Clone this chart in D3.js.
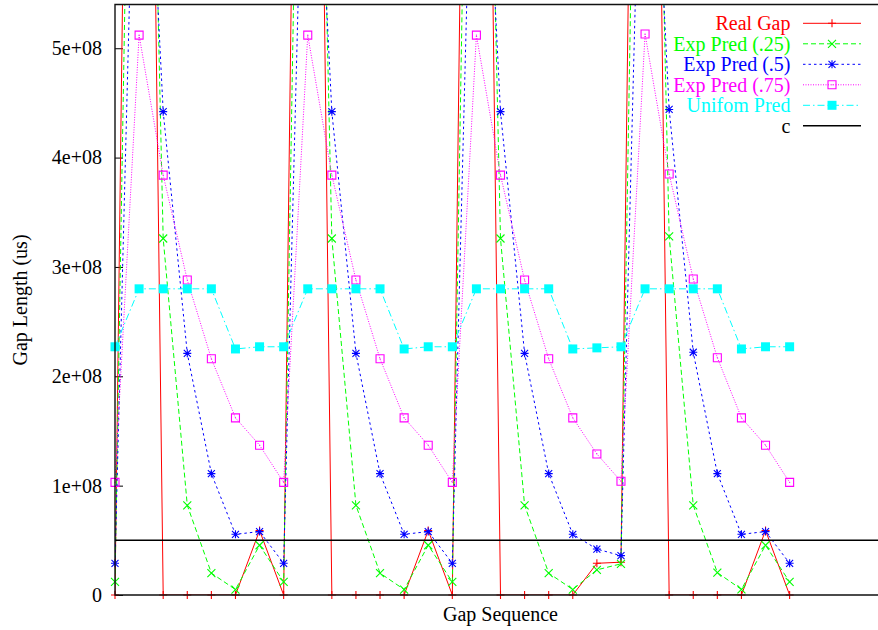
<!DOCTYPE html>
<html>
<head>
<meta charset="utf-8">
<script src="https://cdn.jsdelivr.net/npm/d3@7"></script>
<style>
  html, body { margin: 0; padding: 0; background: #fff; }
  svg { display: block; }
  text { font-family: "Liberation Serif", "Times New Roman", Times, serif; font-size: 20px; }
</style>
</head>
<body>
<svg id="chart" width="878" height="630"></svg>
<script>
// Gap sequence numbers (x) and the gap lengths in microseconds (y)
const gapSeq = [0, 1, 2, 3, 4, 5, 6, 7, 8, 9, 10, 11, 12, 13, 14, 15, 16, 17, 18, 19, 20, 21, 22, 23, 24, 25, 26, 27, 28];

const realGap = [0, 1.74e9, 0, 0, 0, 0, 5.9e7, 0,
                 1.74e9, 0, 0, 0, 0, 5.9e7, 0,
                 1.74e9, 0, 0, 0, 0, 2.9e7, 3.0e7,
                 1.74e9, 0, 0, 0, 0, 5.9e7, 0];

const expPred25 = [1.2e7, 1.305e9, 3.26e8, 8.2e7, 2.0e7, 5.0e6, 4.55e7, 1.2e7,
                   1.305e9, 3.26e8, 8.2e7, 2.0e7, 5.0e6, 4.55e7, 1.2e7,
                   1.305e9, 3.26e8, 8.2e7, 2.0e7, 5.0e6, 2.3e7, 2.85e7,
                   1.31e9, 3.28e8, 8.2e7, 2.05e7, 5.1e6, 4.55e7, 1.2e7];

const expPred5 = [2.9e7, 8.84e8, 4.42e8, 2.21e8, 1.11e8, 5.55e7, 5.8e7, 2.9e7,
                  8.84e8, 4.42e8, 2.21e8, 1.11e8, 5.55e7, 5.8e7, 2.9e7,
                  8.84e8, 4.42e8, 2.21e8, 1.11e8, 5.55e7, 4.2e7, 3.6e7,
                  8.88e8, 4.44e8, 2.22e8, 1.11e8, 5.55e7, 5.8e7, 2.9e7];

const expPred75 = [1.03e8, 5.12e8, 3.84e8, 2.88e8, 2.16e8, 1.62e8, 1.37e8, 1.03e8,
                   5.12e8, 3.84e8, 2.88e8, 2.16e8, 1.62e8, 1.37e8, 1.03e8,
                   5.12e8, 3.84e8, 2.88e8, 2.16e8, 1.62e8, 1.29e8, 1.04e8,
                   5.13e8, 3.85e8, 2.89e8, 2.17e8, 1.62e8, 1.37e8, 1.03e8];

const uniformPred = [2.27e8, 2.80e8, 2.80e8, 2.80e8, 2.80e8, 2.25e8, 2.27e8, 2.27e8,
                     2.80e8, 2.80e8, 2.80e8, 2.80e8, 2.25e8, 2.27e8, 2.27e8,
                     2.80e8, 2.80e8, 2.80e8, 2.80e8, 2.25e8, 2.26e8, 2.27e8,
                     2.80e8, 2.80e8, 2.80e8, 2.80e8, 2.25e8, 2.27e8, 2.27e8];

const thresholdC = 5e7;

const yTickValues = [0, 1e8, 2e8, 3e8, 4e8, 5e8];
const yTickLabels = ["0", "1e+08", "2e+08", "3e+08", "4e+08", "5e+08"];

const xDomain = [0, 32];
const yDomain = [0, 5.4e8];

// ---- layout ----
const svg = d3.select("#chart");
const plotLeft = 115, plotRight = 886, plotTop = 4.5, plotBottom = 595;

const x = d3.scaleLinear().domain(xDomain).range([plotLeft, plotRight]);
const y = d3.scaleLinear().domain(yDomain).range([plotBottom, plotTop]);

svg.append("defs").append("clipPath").attr("id", "plotClip")
  .append("rect").attr("x", plotLeft).attr("y", plotTop)
  .attr("width", plotRight - plotLeft).attr("height", plotBottom - plotTop);

// ---- axes ----
const yAxisL = d3.axisLeft(y).tickValues(yTickValues)
  .tickFormat((d, i) => yTickLabels[i]).tickSize(-8).tickPadding(13);
const gL = svg.append("g").attr("transform", `translate(${plotLeft},0)`).call(yAxisL);
gL.select(".domain").remove();
gL.selectAll("line").attr("stroke", "#000");
gL.selectAll("text").attr("fill", "#000")
  .style("font-family", '"Liberation Serif", "Times New Roman", serif').style("font-size", "20px");

const yAxisR = d3.axisRight(y).tickValues(yTickValues).tickFormat("").tickSize(-8);
const gR = svg.append("g").attr("transform", `translate(${plotRight},0)`).call(yAxisR);
gR.select(".domain").remove();
gR.selectAll("line").attr("stroke", "#000");

// axis titles
svg.append("text").attr("x", (plotLeft + plotRight) / 2).attr("y", 621)
  .attr("text-anchor", "middle").attr("fill", "#000").text("Gap Sequence");
svg.append("text").attr("transform", "translate(26.5,300) rotate(-90)")
  .attr("text-anchor", "middle").attr("fill", "#000").text("Gap Length (us)");

// ---- markers ----
const markerPaths = {
  plus: "M-4,0H4M0,-4V4",
  cross: "M-4,-4L4,4M-4,4L4,-4",
  star: "M-4,0H4M0,-4V4M-3.5,-3.5L3.5,3.5M-3.5,3.5L3.5,-3.5",
  box: "M-4,-4H4V4H-4Z",
  fbox: "M-4.5,-4.5H4.5V4.5H-4.5Z"
};

function drawMarker(g, type, color, cx, cy) {
  if (type === "fbox") {
    g.append("path").attr("d", markerPaths.fbox).attr("transform", `translate(${cx},${cy})`)
      .attr("fill", color).attr("stroke", "none");
  } else {
    g.append("path").attr("d", markerPaths[type]).attr("transform", `translate(${cx},${cy})`)
      .attr("fill", "none").attr("stroke", color).attr("stroke-width", 1.1);
    if (type === "box") {
      g.append("rect").attr("x", cx - 0.5).attr("y", cy - 0.5).attr("width", 1).attr("height", 1)
        .attr("fill", color);
    }
  }
}

const series = [
  { name: "Real Gap", values: realGap, color: "#ff0000", dash: null, marker: "plus" },
  { name: "Exp Pred (.25)", values: expPred25, color: "#00ff00", dash: "5,3", marker: "cross" },
  { name: "Exp Pred (.5)", values: expPred5, color: "#0000ff", dash: "2.5,3", marker: "star" },
  { name: "Exp Pred (.75)", values: expPred75, color: "#ff00ff", dash: "1,1.5", marker: "box" },
  { name: "Unifom Pred", values: uniformPred, color: "#00ffff", dash: "7,3,1.5,3", marker: "fbox" }
];

const line = d3.line().x((d, i) => x(gapSeq[i])).y(d => y(d));
const plotG = svg.append("g");

series.forEach(s => {
  plotG.append("path").datum(s.values)
    .attr("clip-path", "url(#plotClip)")
    .attr("d", line).attr("fill", "none")
    .attr("stroke", s.color).attr("stroke-width", 1)
    .attr("stroke-dasharray", s.dash);
  const mg = plotG.append("g");
  s.values.forEach((v, i) => {
    if (v >= yDomain[0] && v <= yDomain[1]) drawMarker(mg, s.marker, s.color, x(gapSeq[i]), y(v));
  });
});

// constant c across the whole x range
plotG.append("path").datum(xDomain)
  .attr("clip-path", "url(#plotClip)")
  .attr("d", d3.line().x(d => x(d)).y(() => y(thresholdC)))
  .attr("fill", "none").attr("stroke", "#000").attr("stroke-width", 1.4);

// ---- border ----
svg.append("path")
  .attr("d", `M${plotLeft},${plotBottom}V${plotTop}H${plotRight}V${plotBottom}Z`)
  .attr("fill", "none").attr("stroke", "#111").attr("stroke-width", 1.4);

// ---- legend ----
const legendItems = series.concat([{ name: "c", color: "#000", dash: null, marker: null, textColor: "#000" }]);
const legendG = svg.append("g");
legendItems.forEach((s, i) => {
  const ly = 23.3 + i * 20.5;
  legendG.append("text").attr("x", 790.5).attr("y", ly + 7)
    .attr("text-anchor", "end").attr("fill", s.textColor || s.color).text(s.name);
  legendG.append("line").attr("x1", 803).attr("x2", 861).attr("y1", ly).attr("y2", ly)
    .attr("stroke", s.color).attr("stroke-width", s.marker ? 1 : 1.6)
    .attr("stroke-dasharray", s.dash);
  if (s.marker) drawMarker(legendG, s.marker, s.color, 832, ly);
});
</script>
</body>
</html>
